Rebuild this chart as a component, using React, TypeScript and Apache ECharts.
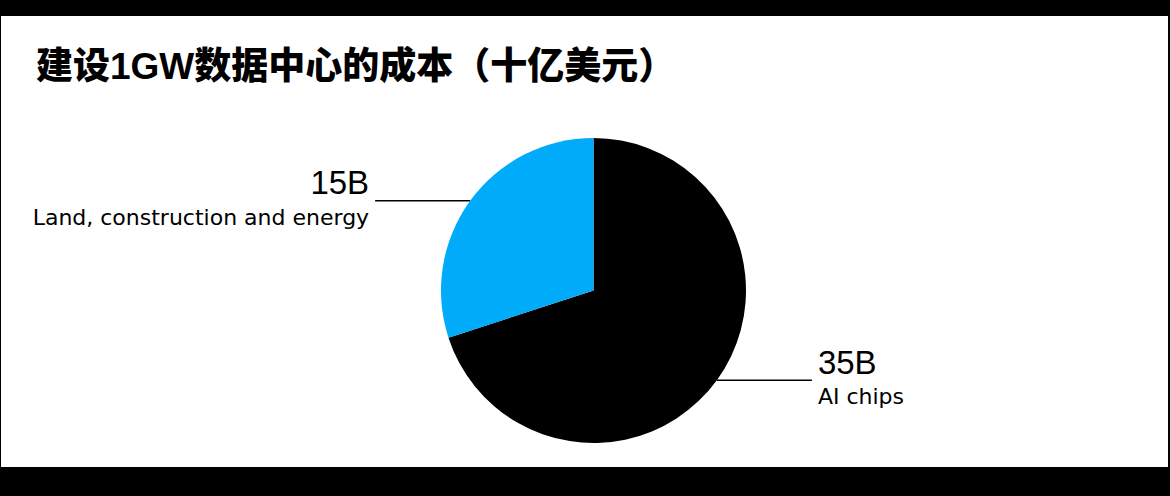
import { useEffect, useRef } from "react";
import * as echarts from "echarts";

type EChartsOption = echarts.EChartsOption;

const title = "建设1GW数据中心的成本（十亿美元）";
const categories = ["AI chips", "Land, construction and energy"];
const values = [35, 15];
const valueLabels = ["35B", "15B"];
const colors = ["#000000", "#00abfa"];

export default function App() {
  const chartRef = useRef<HTMLDivElement>(null);

  useEffect(() => {
    if (!chartRef.current) return;
    const chart = echarts.init(chartRef.current, null, { renderer: "svg" });

    const data = categories.map((name, i) => ({
      name,
      value: values[i],
      itemStyle: { color: colors[i] },
    }));

    const option: EChartsOption = {
      animation: false,
      backgroundColor: "#000",
      graphic: [
        {
          type: "rect",
          z: -10,
          shape: { x: 1, y: 16, width: 1167, height: 451 },
          style: { fill: "#fff" },
        },
      ],
      title: {
        text: title,
        left: 31,
        top: 43,
        textStyle: {
          fontFamily: "Liberation Sans, Noto Sans CJK SC",
          fontSize: 37,
          fontWeight: 900,
          color: "#000",
        },
      },
      series: [
        {
          type: "pie",
          center: [593.5, 290.5],
          radius: 152.5,
          startAngle: 90,
          clockwise: true,
          silent: true,
          data,
          label: {
            show: true,
            position: "outside",
            distanceToLabelLine: 6,
            formatter: (p: any) => `{v|${valueLabels[p.dataIndex]}}\n{n|${p.name}}`,
            rich: {
              v: {
                fontFamily: "Liberation Sans",
                fontSize: 33,
                lineHeight: 33,
                color: "#000",
              },
              n: {
                fontFamily: "DejaVu Sans",
                fontSize: 22,
                lineHeight: 36,
                color: "#000",
              },
            },
          },
          labelLine: {
            show: true,
            length: 0,
            length2: 95,
            lineStyle: { color: "#000", width: 1.5 },
          },
        },
      ],
    };
    chart.setOption(option);

    return () => {
      chart.dispose();
    };
  }, []);

  return (
    <div
      ref={chartRef}
      style={{ position: "fixed", left: 0, top: 0, width: 1170, height: 496 }}
    />
  );
}
